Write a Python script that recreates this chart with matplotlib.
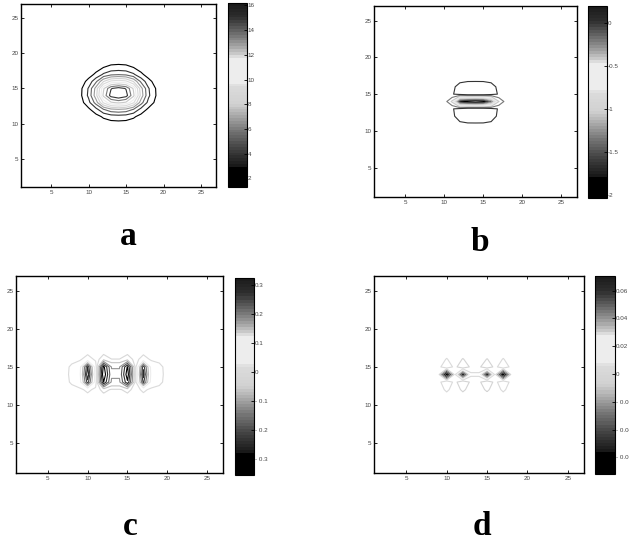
import numpy as np
import matplotlib
matplotlib.use("Agg")
import matplotlib.pyplot as plt
from matplotlib.colors import LinearSegmentedColormap, ListedColormap, Normalize
from matplotlib.cm import ScalarMappable

# ---------------- data ----------------
grid = np.arange(1, 28)
axis_ticks = [5, 10, 15, 20, 25]

# panel a: smooth positive peak (profiles along x and y)
a_min, a_max = 1.3, 16.2
a_px = [0, 0, 0, 0, 0, 0, 0, 0.02, 0.08, 0.2, 0.42, 0.75, 0.95, 1.0,
        0.95, 0.75, 0.42, 0.2, 0.09, 0.02, 0, 0, 0, 0, 0, 0, 0]
a_py = [0, 0, 0, 0, 0, 0, 0, 0, 0.02, 0.06, 0.14, 0.35, 0.75, 1.0,
        0.95, 0.6, 0.26, 0.12, 0.05, 0.01, 0, 0, 0, 0, 0, 0, 0]
a_levels_n = 10
a_cticks = [2, 4, 6, 8, 10, 12, 14, 16]
a_clabels = ["2", "4", "6", "8", "10", "12", "14", "16"]

# panel b: negative trough with two weak positive lobes
b_depth, b_lobe = 2.03, 0.2
b_trough_x = [0, 0, 0, 0, 0, 0, 0, 0, 0, 0.04, 0.22, 0.88, 0.97, 1.0,
              0.97, 0.7, 0.2, 0.04, 0, 0, 0, 0, 0, 0, 0, 0, 0]
b_trough_y = [0, 0, 0, 0, 0, 0, 0, 0, 0, 0, 0, 0, 0, -1,
              0, 0, 0, 0, 0, 0, 0, 0, 0, 0, 0, 0, 0]
b_lobe_x = [0, 0, 0, 0, 0, 0, 0, 0, 0, 0, 0, 0.5, 0.95, 1.0,
            0.95, 0.5, 0, 0, 0, 0, 0, 0, 0, 0, 0, 0, 0]
b_lobe_y = [0, 0, 0, 0, 0, 0, 0, 0, 0, 0, 0.06, 0.6, 1.0, 0,
            1.0, 0.5, -0.05, 0, 0, 0, 0, 0, 0, 0, 0, 0, 0]
b_levels = [-1.8, -1.6, -1.4, -1.2, -1.0, -0.8, -0.6, -0.4, -0.2, 0.02]
b_cticks = [0, -0.5, -1, -1.5, -2]
b_clabels = ["0", "-0.5", "-1", "-1.5", "-2"]

# panel c: four alternating blobs
c_px = [0, 0, 0, 0, 0, 0, 0, 0.025, 0.06, 0.324, 0.05, -0.355, -0.13, -0.13,
        -0.34, -0.005, 0.31, 0.06, 0.03, 0, 0, 0, 0, 0, 0, 0, 0]
c_py = [0, 0, 0, 0, 0, 0, 0, 0, 0, 0, 0, 0.08, 0.85, 1.0,
        0.9, 0.12, 0, 0, 0, 0, 0, 0, 0, 0, 0, 0, 0]
c_levels = [-0.3, -0.24, -0.18, -0.12, -0.06, -0.015, 0.015, 0.08, 0.15,
            0.2, 0.25, 0.29]
c_cticks = [0.3, 0.2, 0.1, 0, -0.1, -0.2, -0.3]
c_clabels = ["0.3", "0.2", "0.1", "0", "- 0.1", "- 0.2", "- 0.3"]

# panel d: four small blobs with side lobes
d_amp = 0.072
d_px = [0, 0, 0, 0, 0, 0, 0, 0, 0, 1.0, 0, -0.98, -0.1, -0.1,
        -0.95, 0, 0.99, 0, 0, 0, 0, 0, 0, 0, 0, 0, 0]
d_py = [0, 0, 0, 0, 0, 0, 0, 0, 0, 0, 0, 0.1, 0.25, -1,
        0.25, 0.08, 0, 0, 0, 0, 0, 0, 0, 0, 0, 0, 0]
d_levels = [-0.065, -0.05, -0.035, -0.02, -0.005, 0.005, 0.02, 0.035,
            0.05, 0.065]
d_cticks = [0.06, 0.04, 0.02, 0, -0.02, -0.04, -0.06]
d_clabels = ["0.06", "0.04", "0.02", "0", "- 0.02", "- 0.04", "- 0.06"]

letters = ["a", "b", "c", "d"]

# ---------------- colormap ----------------
gray_pos = [0.0, 0.10, 0.11, 0.20, 0.30, 0.40, 0.45, 0.55, 0.57, 0.70,
            0.73, 0.80, 0.87, 0.93, 1.0]
gray_val = [0.0, 0.0, 0.10, 0.25, 0.45, 0.70, 0.82, 0.86, 0.93, 0.93,
            0.78, 0.55, 0.35, 0.18, 0.11]
base = LinearSegmentedColormap.from_list(
    "mgray", [(p, (g, g, g)) for p, g in zip(gray_pos, gray_val)])
cmap = ListedColormap(base(np.linspace(0, 1, 64)))

# ---------------- fields ----------------
Za = a_min + (a_max - a_min) * np.outer(a_py, a_px)
Zb = b_depth * np.outer(b_trough_y, b_trough_x) + b_lobe * np.outer(b_lobe_y, b_lobe_x)
Zc = np.outer(c_py, c_px)
Zd = d_amp * np.outer(d_py, d_px)
a_levels = np.linspace(Za.min(), Za.max(), a_levels_n + 2)[1:-1]

W, H = 629, 543
def rect(x0, y0, x1, y1):
    return [x0 / W, 1 - y1 / H, (x1 - x0) / W, (y1 - y0) / H]

fig = plt.figure(figsize=(W / 100, H / 100), dpi=100)
plt.rcParams["font.family"] = ["Liberation Sans", "DejaVu Sans"]

panels = [
    (rect(21, 4, 216, 187), rect(228, 3, 247, 187), Za, a_levels, a_cticks, a_clabels, (128, 245)),
    (rect(374, 6, 577, 197), rect(588, 6, 607, 198), Zb, b_levels, b_cticks, b_clabels, (480, 251)),
    (rect(16, 276, 223, 473), rect(235, 278, 254, 475), Zc, c_levels, c_cticks, c_clabels, (130, 535)),
    (rect(374, 276, 584, 473), rect(595, 276, 615, 474), Zd, d_levels, d_cticks, d_clabels, (482, 535)),
]

X, Y = np.meshgrid(grid, grid)
for (ar, cr, Z, lev, ct, cl, lxy), letter in zip(panels, letters):
    ax = fig.add_axes(ar)
    norm = Normalize(Z.min(), Z.max())
    ax.contour(X, Y, Z, levels=lev, cmap=cmap, norm=norm, linewidths=0.8)
    ax.set_xlim(1, 27)
    ax.set_ylim(1, 27)
    ax.set_xticks(axis_ticks)
    ax.set_yticks(axis_ticks)
    ax.tick_params(direction="in", top=True, right=True, length=2.5, width=0.6,
                   labelsize=4.5, labelcolor="#444444", pad=2)
    for s in ax.spines.values():
        s.set_linewidth(1.0)
    cax = fig.add_axes(cr)
    cb = fig.colorbar(ScalarMappable(norm=norm, cmap=cmap), cax=cax)
    cb.set_ticks(ct)
    cb.set_ticklabels(cl)
    cax.tick_params(direction="in", length=2, width=0.6, labelsize=4.5,
                    labelcolor="#444444", pad=0.5)
    cb.outline.set_linewidth(0.8)
    fig.text(lxy[0] / W, 1 - lxy[1] / H, letter, ha="center", va="baseline",
             fontsize=24, fontweight="bold", family="Liberation Serif")

fig.savefig("out.png", dpi=100)
